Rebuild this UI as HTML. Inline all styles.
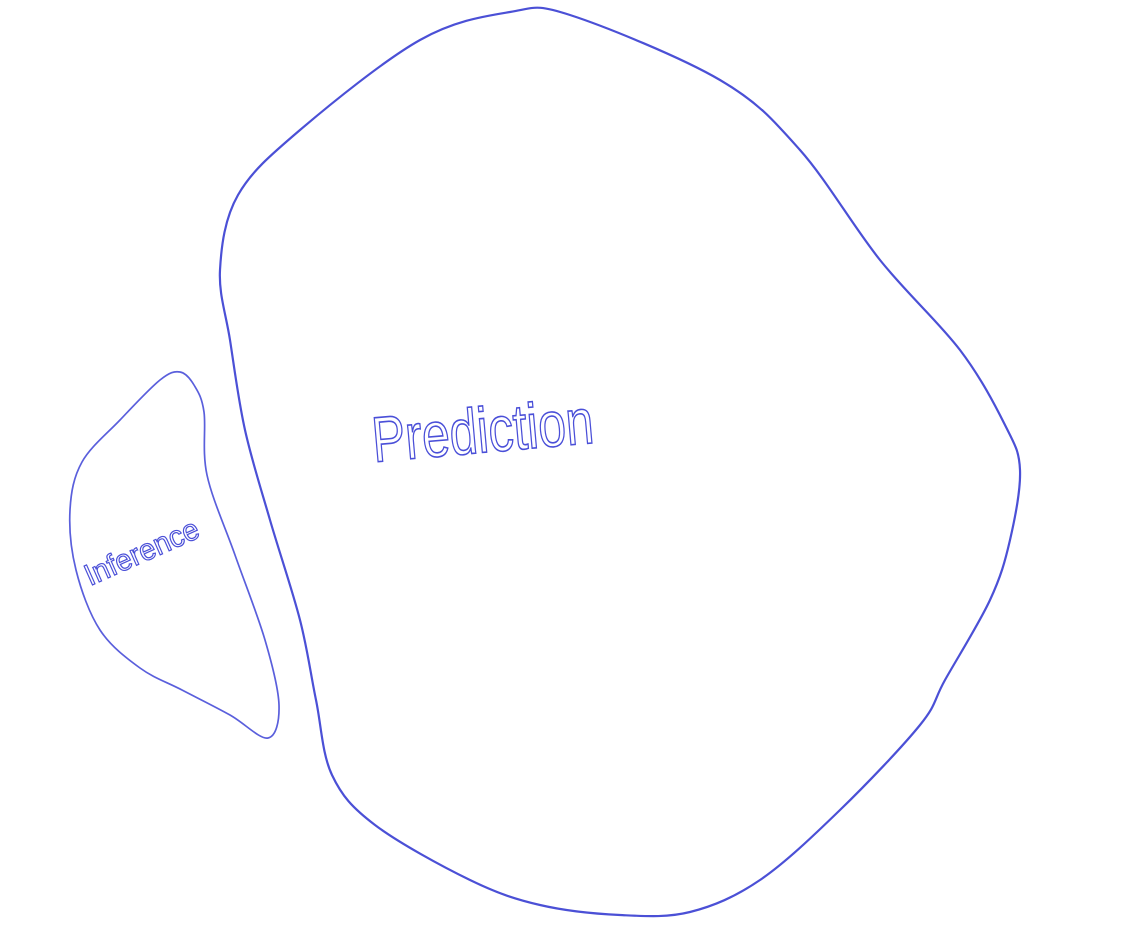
<!DOCTYPE html>
<html><head><meta charset="utf-8"><style>
html,body{margin:0;padding:0;background:#fff;}
svg{display:block;}
text{font-family:"Liberation Sans",sans-serif;fill:none;stroke:#4a4fd8;}
</style></head><body>
<svg id="c" width="1133" height="927" viewBox="0 0 1133 927">
<path id="big" fill="none" stroke="#4b50d6" stroke-width="2.2" stroke-linejoin="round"/>
<path id="small" fill="none" stroke="#5a5fdc" stroke-width="1.7" stroke-linejoin="round"/>
<text x="374" y="462" font-size="64" stroke-width="1.6" textLength="222" lengthAdjust="spacingAndGlyphs" transform="rotate(-5 374 462)">Prediction</text>
<text x="90" y="586" font-size="30" stroke-width="1.2" textLength="122" lengthAdjust="spacingAndGlyphs" transform="rotate(-24 90 586)">Inference</text>
</svg>
<script>
const bigPts=[[220,270],[238,195],[300,130],[420,40],[510,12],[570,15],[720,80],[800,150],[880,260],[960,350],[1005,425],[1020,470],[1010,540],[990,600],[945,680],[920,725],[840,810],[760,880],[690,912],[620,915],[540,905],[470,880],[375,825],[332,775],[316,700],[300,620],[270,520],[245,430],[230,340]];
const smallPts=[[180,372],[160,380],[120,420],[82,462],[70,510],[76,570],[100,630],[140,668],[182,690],[230,715],[268,738],[279,705],[265,640],[235,555],[207,475],[204,412],[194,385]];
function smooth(p){
  const n=p.length;let d=`M${p[0][0]},${p[0][1]}`;
  for(let i=0;i<n;i++){
    const p0=p[(i-1+n)%n],p1=p[i],p2=p[(i+1)%n],p3=p[(i+2)%n];
    const c1=[p1[0]+(p2[0]-p0[0])/6,p1[1]+(p2[1]-p0[1])/6];
    const c2=[p2[0]-(p3[0]-p1[0])/6,p2[1]-(p3[1]-p1[1])/6];
    d+=` C${c1[0]},${c1[1]} ${c2[0]},${c2[1]} ${p2[0]},${p2[1]}`;
  }
  return d+'Z';
}
document.getElementById('big').setAttribute('d',smooth(bigPts));
document.getElementById('small').setAttribute('d',smooth(smallPts));
</script>
</body></html>
